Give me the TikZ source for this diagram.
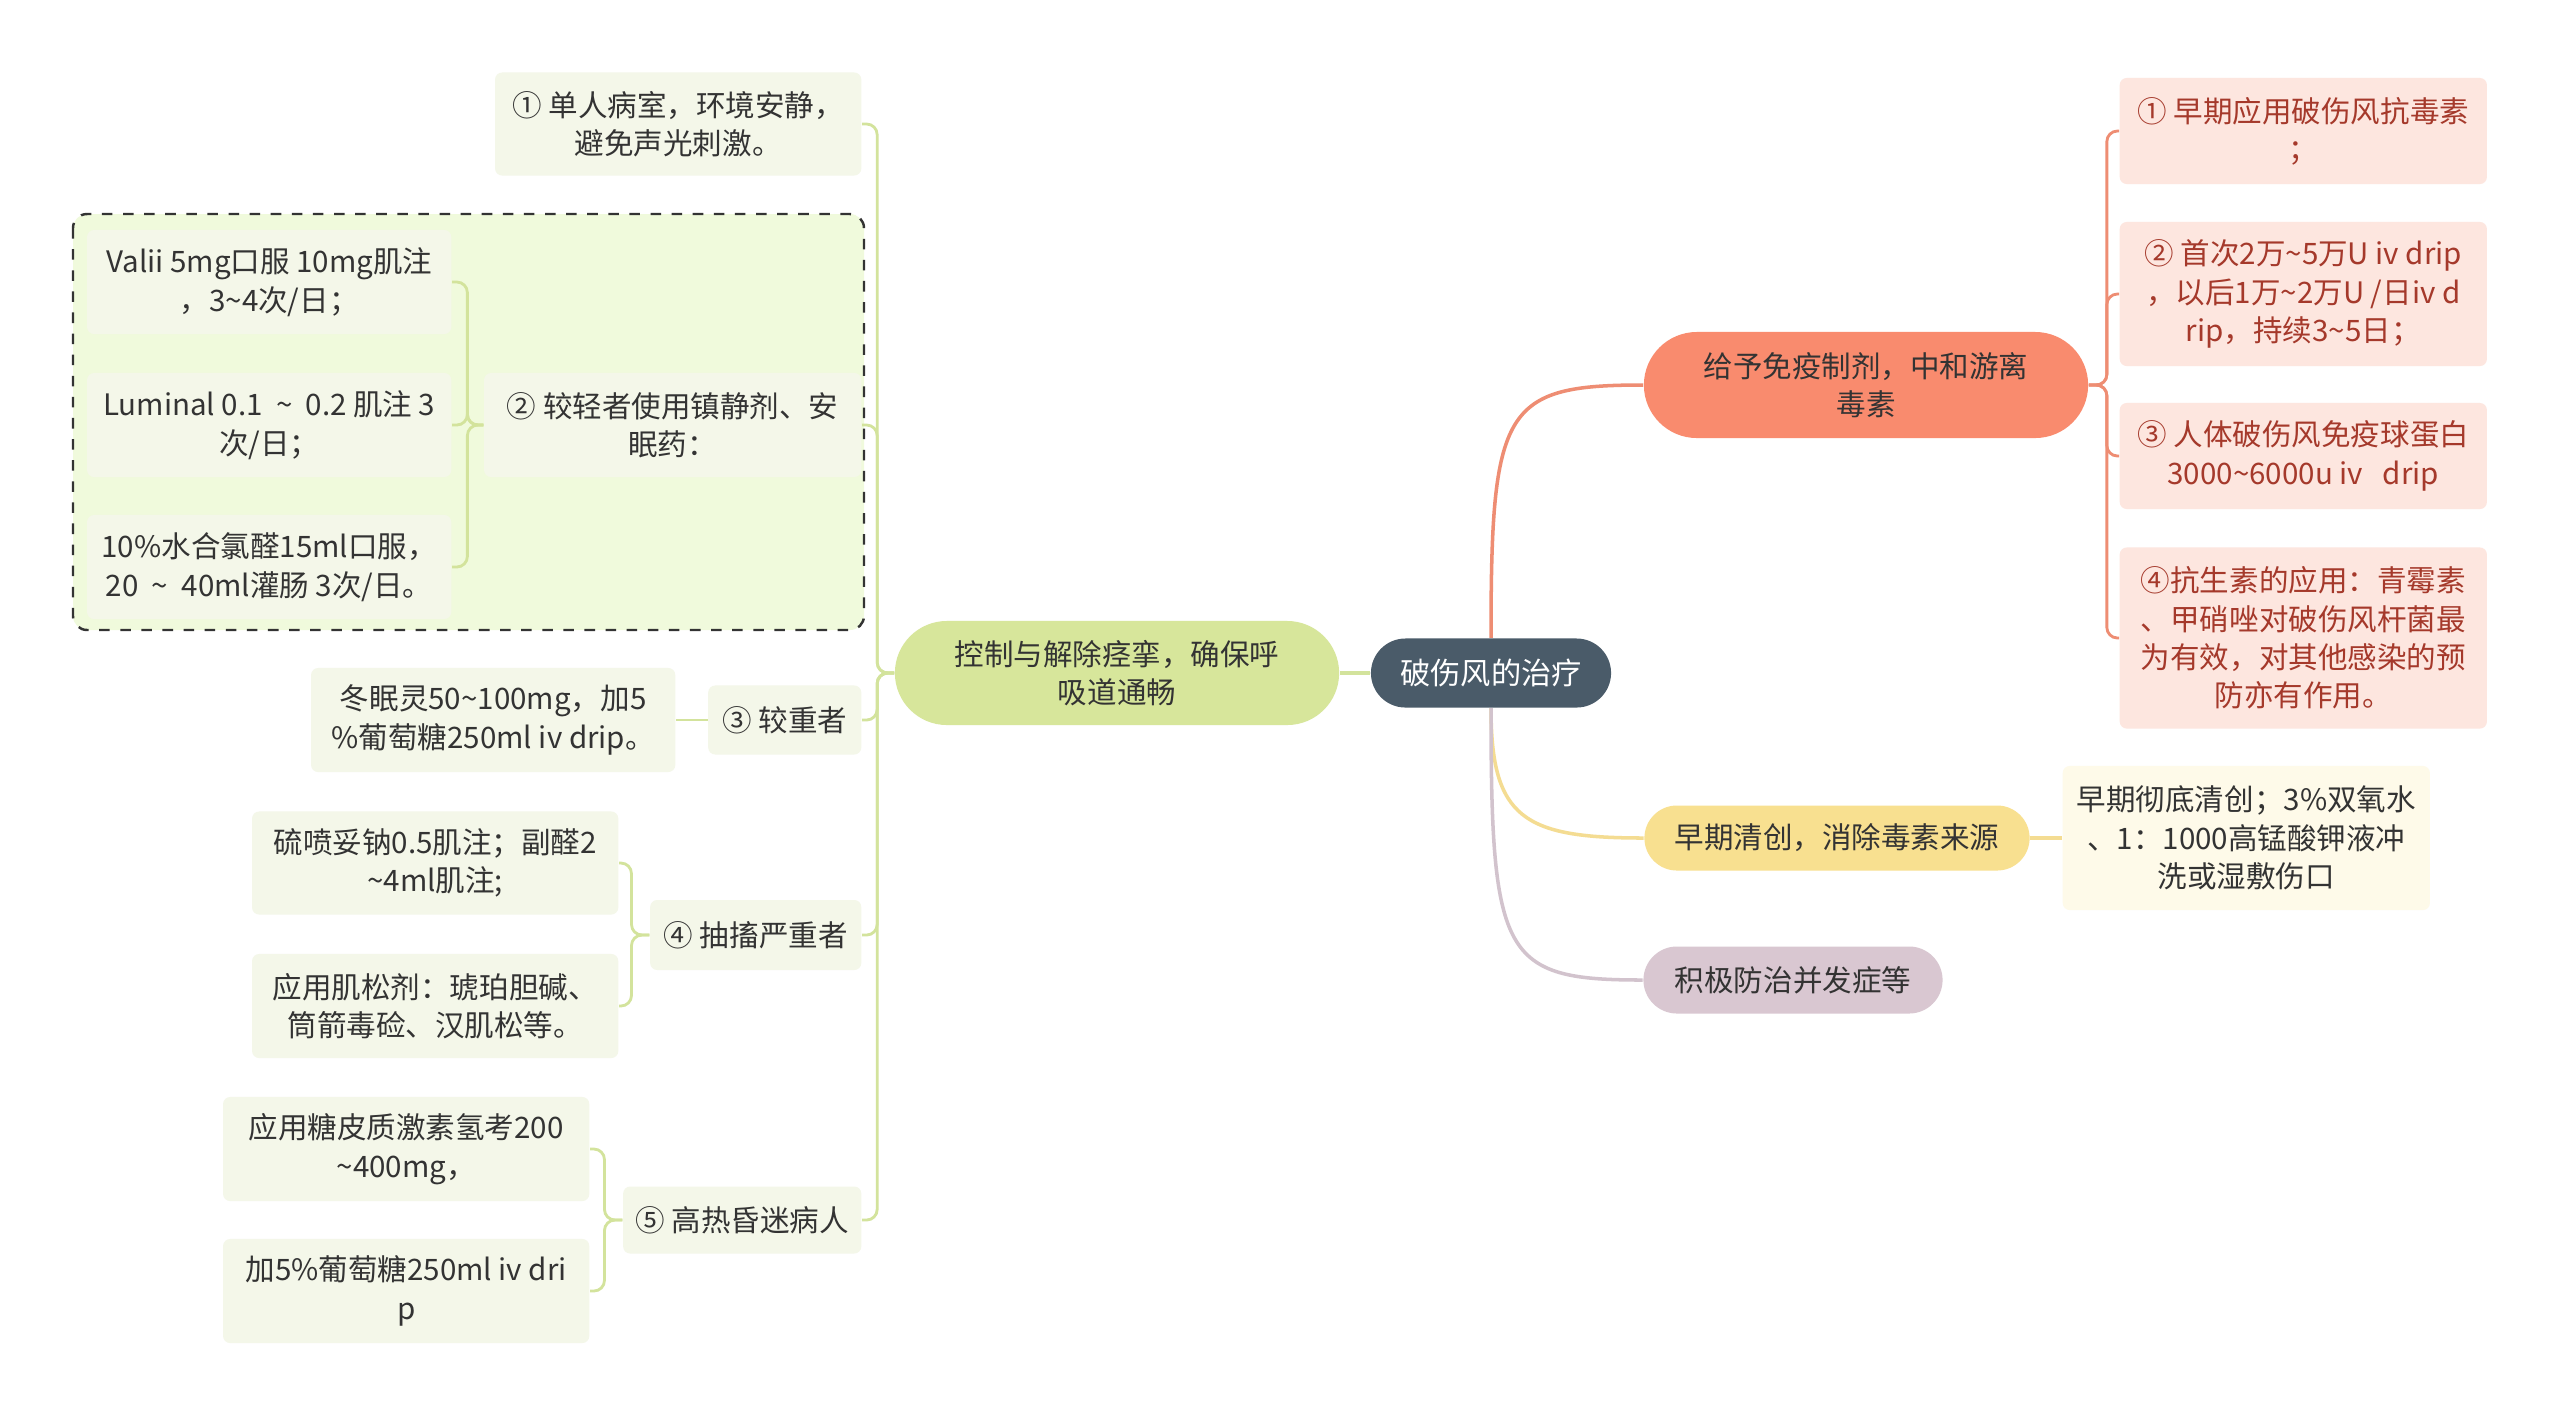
\documentclass[tikz,border=0pt]{standalone}
\usepackage{fontspec}
\setmainfont{Noto Sans CJK SC}
\usetikzlibrary{shapes.misc}

% barvy
\definecolor{korenc}{HTML}{4A5B69}
\definecolor{textc}{HTML}{333333}
\definecolor{zelenac}{HTML}{D7E69B}
\definecolor{carazc}{HTML}{D3E39C}
\definecolor{podLc}{HTML}{F4F7E9}
\definecolor{skupinac}{HTML}{F0FADC}
\definecolor{lososc}{HTML}{F98B6E}
\definecolor{caraac}{HTML}{EE8D73}
\definecolor{podAc}{HTML}{FDE6DF}
\definecolor{textac}{HTML}{A5392B}
\definecolor{zlutac}{HTML}{F8E090}
\definecolor{carabc}{HTML}{F4DC92}
\definecolor{podBc}{HTML}{FEFAE9}
\definecolor{fialc}{HTML}{D9C7D1}
\definecolor{caracc}{HTML}{D2C3CD}

% vlnovka
\newcommand{\vl}{\textasciitilde}

\begin{document}
\begin{tikzpicture}[x=0.01cm, y=-0.01cm]

    % rozměry plátna (v pixelech)
    \def\W{2560}
    \def\H{1417}

    % styly uzlů a čar
    \tikzset{
        txt/.style={font=\fontsize{8.4}{10.9}\selectfont, align=center, inner sep=0pt, text=textc},
        koren/.style={txt, rounded rectangle, fill=korenc, text=white,
            font=\fontsize{8.6}{11}\selectfont, minimum width=2.4cm, minimum height=0.69cm},
        hlavni/.style={txt, rounded rectangle},
        podL/.style={txt, fill=podLc, rounded corners=2pt, anchor=east},
        podA/.style={txt, fill=podAc, text=textac, rounded corners=2pt, anchor=west, minimum width=3.67cm},
        skupina/.style={draw=black!80, fill=skupinac, dashed, line width=0.7pt, rounded corners=4pt},
        caraL/.style={draw=carazc, line width=0.8pt, rounded corners=3pt},
        caraA/.style={draw=caraac, line width=0.8pt, rounded corners=3pt},
        caraB/.style={draw=carabc, line width=1pt},
        caraC/.style={draw=caracc, line width=1pt}
    }

    % pomocné makro pro lomenou větev
    % #1 odkud, #2 kam, #3 styl, #4 vodorovný posun sběrnice
    \newcommand{\vetev}[4]{%
        \draw[#3] (#1) -- ++(#4,0) |- (#2);
    }

    % pozadí
    \useasboundingbox (0,0) rectangle (\W,\H);
    \fill[white] (0,0) rectangle (\W,\H);

    % --- střed ---
    \node[koren] (root) at (1491,673) {破伤风的治疗};

    % --- levá větev ---
    \node[hlavni, fill=zelenac, minimum width=4.44cm, minimum height=1.04cm] (ctrl) at (1117,673)
        {控制与解除痉挛，确保呼\\吸道通畅};

    % čárkovaný rámeček
    \draw[skupina] (73,214) rectangle (864,630);

    \node[podL, minimum width=3.66cm, minimum height=1.03cm] (n1) at (862,124)
        {① 单人病室，环境安静，\\避免声光刺激。};
    \node[podL, minimum width=3.77cm, minimum height=1.04cm] (n2) at (862,425)
        {② 较轻者使用镇静剂、安\\眠药：};
    \node[podL, minimum width=1.53cm, minimum height=0.69cm] (n3) at (862,720) {③ 较重者};
    \node[podL, minimum width=2.11cm, minimum height=0.70cm] (n4) at (862,935) {④ 抽搐严重者};
    \node[podL, minimum width=2.38cm, minimum height=0.67cm] (n5) at (862,1220) {⑤ 高热昏迷病人};

    % listy
    \node[podL, minimum width=3.64cm, minimum height=1.04cm] (g1) at (452,282)
        {Valii 5mg口服 10mg肌注\\，3\vl4次/日；};
    \node[podL, minimum width=3.64cm, minimum height=1.04cm] (g2) at (452,425)
        {Luminal 0.1 \ \vl\ \ 0.2 肌注 3\\次/日；};
    \node[podL, minimum width=3.64cm, minimum height=1.04cm] (g3) at (452,567)
        {10\%水合氯醛15ml口服，\\20 \ \vl\ \ 40ml灌肠 3次/日。};
    \node[podL, minimum width=3.64cm, minimum height=1.04cm] (g4) at (676,720)
        {冬眠灵50\vl100mg，加5\\\%葡萄糖250ml iv drip。};
    \node[podL, minimum width=3.66cm, minimum height=1.03cm] (g5) at (619,863)
        {硫喷妥钠0.5肌注；副醛2\\\vl4ml肌注;};
    \node[podL, minimum width=3.66cm, minimum height=1.04cm] (g6) at (619,1006)
        {应用肌松剂：琥珀胆碱、\\筒箭毒硷、汉肌松等。};
    \node[podL, minimum width=3.66cm, minimum height=1.04cm] (g7) at (590,1149)
        {应用糖皮质激素氢考200\\\vl400mg，};
    \node[podL, minimum width=3.66cm, minimum height=1.04cm] (g8) at (590,1291)
        {加5\%葡萄糖250ml iv dri\\p};

    % spoje vlevo
    \draw[caraL, line width=1pt] (root.west) -- (ctrl.east);
    \foreach \n in {n1,n2,n3,n4,n5} {
        \vetev{ctrl.west}{\n.east}{caraL}{-17}
    }
    \foreach \g in {g1,g2,g3} {
        \vetev{n2.west}{\g.east}{caraL}{-16}
    }
    \draw[caraL] (n3.west) -- (g4.east);
    \foreach \g in {g5,g6} {
        \vetev{n4.west}{\g.east}{caraL}{-18}
    }
    \foreach \g in {g7,g8} {
        \vetev{n5.west}{\g.east}{caraL}{-18}
    }

    % --- pravá větev ---
    \node[hlavni, fill=lososc, minimum width=4.44cm, minimum height=1.06cm] (immu) at (1866,385)
        {给予免疫制剂，中和游离\\毒素};
    \node[podA, minimum height=1.06cm] (a1) at (2119,131) {① 早期应用破伤风抗毒素\\；};
    \node[podA, minimum height=1.44cm] (a2) at (2119,294)
        {② 首次2万\vl5万U iv drip\\，以后1万\vl2万U /日iv d\\rip，持续3\vl5日；};
    \node[podA, minimum height=1.06cm] (a3) at (2119,456)
        {③ 人体破伤风免疫球蛋白\\3000\vl6000u iv\ \ \ drip};
    \node[podA, minimum height=1.81cm] (a4) at (2119,638)
        {④抗生素的应用：青霉素\\、甲硝唑对破伤风杆菌最\\为有效，对其他感染的预\\防亦有作用。};

    \node[hlavni, fill=zlutac, minimum width=3.85cm, minimum height=0.65cm] (debr) at (1837,838)
        {早期清创，消除毒素来源};
    \node[txt, fill=podBc, rounded corners=2pt, anchor=west, minimum width=3.67cm, minimum height=1.44cm]
        (b1) at (2062,838) {早期彻底清创；3\%双氧水\\、1：1000高锰酸钾液冲\\洗或湿敷伤口};

    \node[hlavni, fill=fialc, minimum width=2.99cm, minimum height=0.67cm] (comp) at (1793,980)
        {积极防治并发症等};

    % spoje vpravo
    \draw[caraA, line width=1pt] (root.north) .. controls +(0,-230) and +(-140,0) .. (immu.west);
    \foreach \a in {a1,a2,a3,a4} {
        \vetev{immu.east}{\a.west}{caraA}{18}
    }
    \draw[caraB] (root.south) .. controls +(0,110) and +(-120,0) .. (debr.west);
    \draw[caraB] (debr.east) -- (b1.west);
    \draw[caraC] (root.south) .. controls +(0,250) and +(-140,0) .. (comp.west);

\end{tikzpicture}
\end{document}
